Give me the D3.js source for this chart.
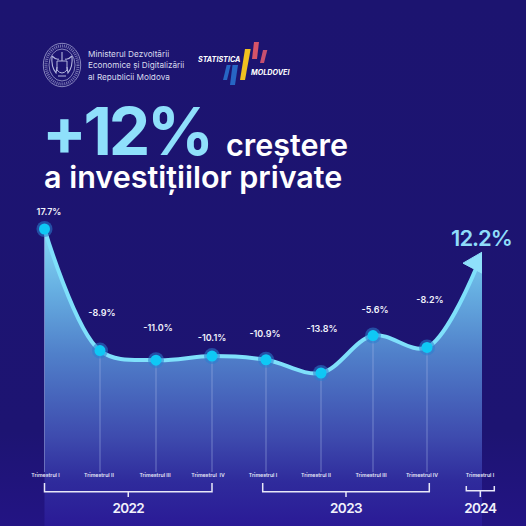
<!DOCTYPE html>
<html><head><meta charset="utf-8">
<script src="https://cdn.jsdelivr.net/npm/d3@7/dist/d3.min.js"></script>
<style>html,body{margin:0;padding:0;background:#1d1470}svg{display:block}text{font-family:Inter,"Liberation Sans",sans-serif}</style>
</head><body><svg id="c" width="526" height="526"></svg>
<script>
const quarters = ["Trimestrul I","Trimestrul II","Trimestrul III","Trimestrul  IV","Trimestrul I","Trimestrul II","Trimestrul III","Trimestrul IV","Trimestrul I"];
const values = [17.7,-8.9,-11.0,-10.1,-10.9,-13.8,-5.6,-8.2,12.2];
const valueLabels = ["17.7%","-8.9%","-11.0%","-10.1%","-10.9%","-13.8%","-5.6%","-8.2%"];
const years = [{name:"2022",from:0,to:3},{name:"2023",from:4,to:7},{name:"2024",from:8,to:8}];
const ministry = ["Ministerul Dezvoltării","Economice și Digitalizării","al Republicii Moldova"];

const svg = d3.select("#c");
const idx = values.map((_,i)=>i);
const x = d3.scaleLinear().domain(idx).range([44.5,100,156,212,266,321,373,427,482]);
const y = d3.scaleLinear().domain([17.7,-13.8]).range([229,373]);
const axisY = 526;

const defs = svg.append("defs");
const bg = defs.append("linearGradient").attr("id","bg").attr("x1",0).attr("x2",0).attr("y1",0).attr("y2",1);
bg.append("stop").attr("offset","0%").attr("stop-color","#1c1470");
bg.append("stop").attr("offset","82%").attr("stop-color","#1d1472");
bg.append("stop").attr("offset","100%").attr("stop-color","#231484");
const ag = defs.append("linearGradient").attr("id","area").attr("gradientUnits","userSpaceOnUse").attr("x1",0).attr("x2",0).attr("y1",229).attr("y2",526);
[[0,"#86daf6"],[0.2,"#67b0e2"],[0.42,"#5080ca"],[0.7,"#3e4bae"],[0.85,"#2f2b9c"],[1,"#2a1a96"]]
  .forEach(([o,c])=>ag.append("stop").attr("offset",o).attr("stop-color",c));

svg.append("rect").attr("width",526).attr("height",526).attr("fill","url(#bg)");

// Area under the growth line
const curve = d3.curveCatmullRom.alpha(0.5);
const areaGen = d3.area().x(i=>x(i)).y0(axisY).y1(i=>y(values[i])).curve(curve);
svg.append("path").attr("d",areaGen(idx)).attr("fill","url(#area)");

// Quarter drop lines
svg.append("g").selectAll("line").data(idx.slice(0,8)).join("line")
  .attr("x1",i=>x(i)).attr("x2",i=>x(i)).attr("y1",i=>y(values[i])).attr("y2",472)
  .attr("stroke","#a9b8ea").attr("stroke-opacity",.5).attr("stroke-width",1);

// Growth line, stopping at the arrow head
const lineGen = d3.line().x(i=>x(i)).y(i=>y(values[i])).curve(curve);
const linePath = svg.append("path").attr("d",lineGen(idx)).attr("fill","none")
  .attr("stroke","#7fe0fb").attr("stroke-width",4).attr("stroke-linecap","round");
const total = linePath.node().getTotalLength();
linePath.attr("stroke-dasharray",`${total-14} 100`);

// Arrow head at the last quarter
const tipX = x(8), tipY = y(12.2)-2;
svg.append("path").attr("d",d3.line()([[tipX,tipY],[tipX-19,tipY+11],[tipX,tipY+21]])).attr("fill","#8fe0fb").attr("stroke","#8fe0fb").attr("stroke-width",1).attr("stroke-linejoin","round");

// Quarter markers
const pts = idx.slice(0,8);
svg.append("g").selectAll("circle").data(pts).join("circle")
  .attr("cx",i=>x(i)).attr("cy",i=>y(values[i])).attr("r",8).attr("fill","#2a7fd0").attr("fill-opacity",.55);
svg.append("g").selectAll("circle").data(pts).join("circle")
  .attr("cx",i=>x(i)).attr("cy",i=>y(values[i])).attr("r",5.5).attr("fill","#0fc8f5");

// Value labels, each nudged clear of the line
const labelDx = [4.5,2,2,0,-1,1,2,3];
const labelDy = [-14,-35,-29,-15.5,-23,-41,-23,-44];
svg.append("g").selectAll("text").data(pts).join("text")
  .attr("x",i=>x(i)+labelDx[i]).attr("y",i=>y(values[i])+labelDy[i])
  .attr("text-anchor","middle").attr("fill","#f0f2fb").attr("font-size",9).attr("font-weight",600)
  .text(i=>valueLabels[i]);
svg.append("text").attr("x",481.5).attr("y",246).attr("text-anchor","middle").attr("fill","#8fdcfa")
  .attr("font-size",22).attr("letter-spacing",-1).attr("font-weight",600).text("12.2%");

// Quarter tick labels
const tickDx = [1,-1,-1,-4,-3,-5,-2,-5,-2];
svg.append("g").selectAll("text").data(idx).join("text")
  .attr("x",i=>x(i)+tickDx[i]).attr("y",477).attr("text-anchor","middle").attr("fill","#e4e6f6")
  .attr("font-size",5.2).attr("font-weight",600).style("white-space","pre").text(i=>quarters[i]);

// Year brackets
const bracket = svg.append("g").attr("fill","none").attr("stroke","#e8e8f8").attr("stroke-width",1.5);
years.forEach(yr=>{
  const short = yr.from===yr.to;
  const l = short ? x(yr.from)-15.7 : x(yr.from)-(yr.from===4?3.3:0);
  const r = short ? x(yr.from)+12.3 : x(yr.to)+(yr.from===4?2.3:0);
  const mid = (l+r)/2, base = short?490.7:491.7, top = short?486:483;
  bracket.append("path").attr("d",d3.line()([[l,top],[l,base],[r,base],[r,top]]));
  bracket.append("path").attr("d",d3.line()([[mid,base],[mid,497]]));
  svg.append("text").attr("x",mid).attr("y",513).attr("text-anchor","middle").attr("fill","#f2f2fb")
    .attr("font-size",13.5).attr("letter-spacing",-.6).attr("font-weight",600).text(yr.name);
});

// Title
svg.append("text").attr("x",42).attr("y",155).attr("fill","#8fe0fb").attr("font-size",66).attr("letter-spacing",-3.3).attr("font-weight",700).text("+12%");
svg.append("text").attr("x",226).attr("y",156).attr("fill","#fff").attr("font-size",30.5).attr("font-weight",600).text("creștere");
svg.append("text").attr("x",44).attr("y",188).attr("fill","#fff").attr("font-size",30.5).attr("font-weight",600).text("a investițiilor private");

// Ministry name
svg.append("g").selectAll("text").data(ministry).join("text")
  .attr("x",88).attr("y",(d,i)=>57+i*11.3).attr("fill","#d9dbee").attr("font-size",8.2).text(d=>d);

// Ministry seal
const seal = svg.append("g").attr("transform","translate(62,65)").attr("fill","none").attr("stroke","#b4b6de");
seal.append("ellipse").attr("rx",18.7).attr("ry",21.7).attr("stroke-width",.7);
seal.append("ellipse").attr("rx",16).attr("ry",19).attr("stroke-width",3).attr("stroke-dasharray","1 1").attr("stroke-opacity",.6);
seal.append("ellipse").attr("rx",13).attr("ry",16).attr("stroke-width",.7);
seal.append("path").attr("d","M-5,-4 L5,-4 L5,5 Q0,11 -5,5 Z").attr("stroke-width",1);
seal.append("path").attr("d","M-10,-9 Q-11,2 -6,8 L-5,2 M10,-9 Q11,2 6,8 L5,2 M-10,-9 Q-6,-5 -3,-6 M10,-9 Q6,-5 3,-6 M0,-13 L0,-4 M-4,11 L4,11").attr("stroke-width",1.1);

// Statistics office logo
const logoBars = [
  {c:"#2766c4",p:[[226.7,65],[230.7,65],[227,80],[223,80]]},
  {c:"#2766c4",p:[[232.5,65],[238,65],[235,85],[230,85]]},
  {c:"#f0c020",p:[[245,49],[250.7,49],[245,80],[240,80]]},
  {c:"#d65468",p:[[254,42],[259,42],[257,59],[252,59]]},
  {c:"#c65070",p:[[263,50],[267.3,50],[264,63],[260,63]]}
];
svg.append("g").selectAll("path").data(logoBars).join("path")
  .attr("d",b=>d3.line()(b.p)+"Z").attr("fill",b=>b.c);
svg.append("text").attr("x",198).attr("y",62).attr("fill","#fff").attr("font-size",7.2).attr("font-weight",700).attr("font-style","italic").text("STATISTICA");
svg.append("text").attr("x",251).attr("y",75).attr("fill","#fff").attr("font-size",7.2).attr("font-weight",700).attr("font-style","italic").text("MOLDOVEI");
</script></body></html>
